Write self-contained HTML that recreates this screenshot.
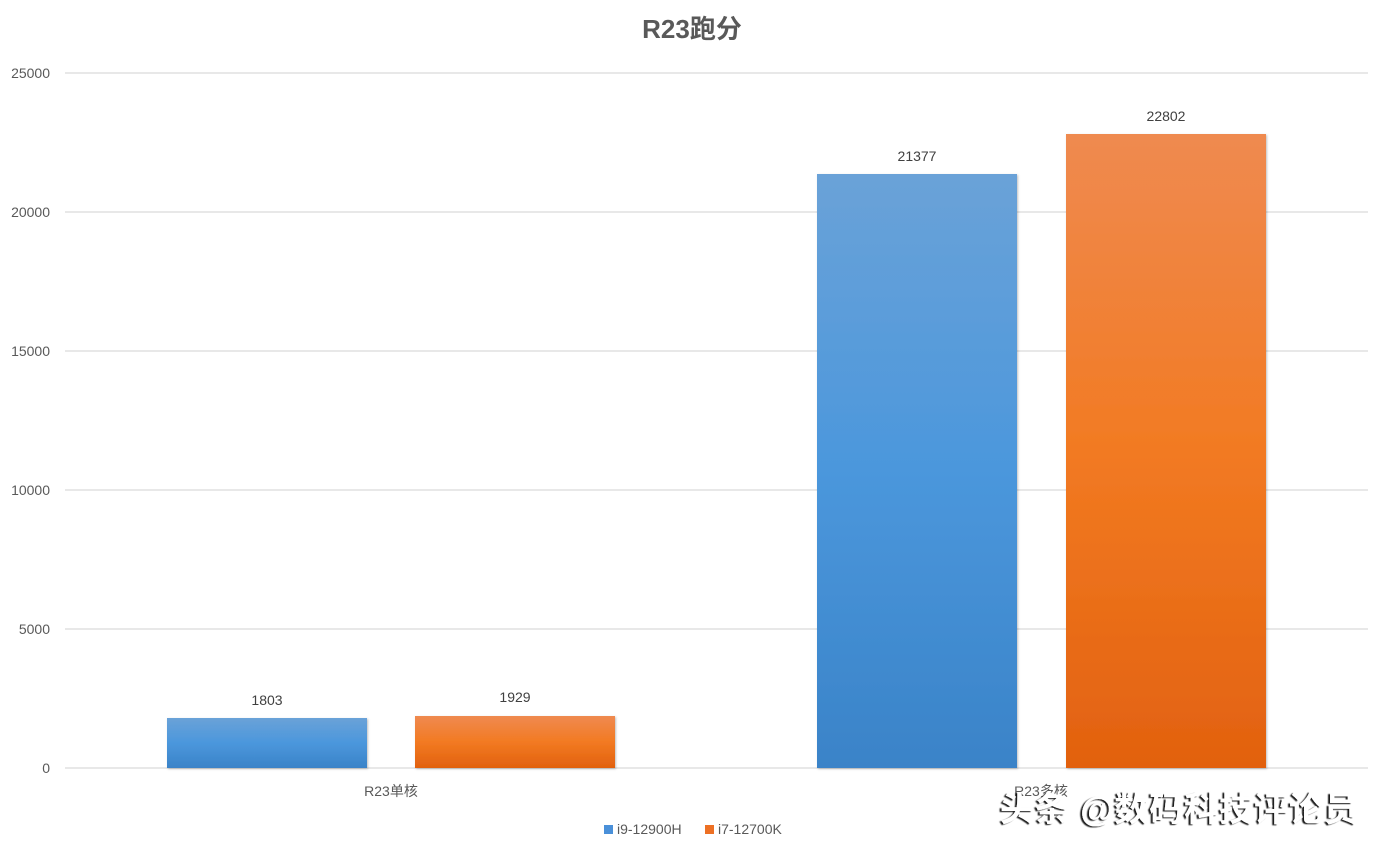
<!DOCTYPE html>
<html><head><meta charset="utf-8"><style>
html,body{margin:0;padding:0;background:#fff;width:1384px;height:851px;overflow:hidden}
text{font-family:"Liberation Sans","Noto Sans CJK SC",sans-serif}
</style></head><body>
<svg width="1384" height="851" xmlns="http://www.w3.org/2000/svg">
<defs>
<linearGradient id="b" x1="0" y1="0" x2="0" y2="1"><stop offset="0" stop-color="#6aa2d8"/><stop offset="0.5" stop-color="#4b97dc"/><stop offset="1" stop-color="#3a83c8"/></linearGradient>
<linearGradient id="o" x1="0" y1="0" x2="0" y2="1"><stop offset="0" stop-color="#ef8a50"/><stop offset="0.5" stop-color="#f27a22"/><stop offset="1" stop-color="#e2610f"/></linearGradient>
<filter id="s"><feDropShadow dx="1" dy="1" stdDeviation="1" flood-color="#000" flood-opacity="0.25"/></filter>
<filter id="w"><feDropShadow dx="-2" dy="1" stdDeviation="0.5" flood-color="#000" flood-opacity="0.9"/></filter>
</defs>
<text x="692" y="38" text-anchor="middle" font-size="26" font-weight="bold" fill="#595959">R23跑分</text>
<g stroke="#d9d9d9" stroke-width="1.3">
<line x1="65" x2="1368" y1="73" y2="73"/><line x1="65" x2="1368" y1="212" y2="212"/><line x1="65" x2="1368" y1="351" y2="351"/><line x1="65" x2="1368" y1="490" y2="490"/><line x1="65" x2="1368" y1="629" y2="629"/><line x1="65" x2="1368" y1="768" y2="768"/>
</g>
<g font-size="14" fill="#595959" text-anchor="end">
<text x="50" y="78">25000</text><text x="50" y="217">20000</text><text x="50" y="356">15000</text><text x="50" y="495">10000</text><text x="50" y="634">5000</text><text x="50" y="773">0</text>
</g>
<g filter="url(#s)">
<rect x="167" y="718" width="200" height="50" fill="url(#b)"/>
<rect x="415" y="716" width="200" height="52" fill="url(#o)"/>
<rect x="817" y="174" width="200" height="594" fill="url(#b)"/>
<rect x="1066" y="134" width="200" height="634" fill="url(#o)"/>
</g>
<g font-size="14" fill="#404040" text-anchor="middle">
<text x="267" y="705">1803</text><text x="515" y="702">1929</text>
<text x="917" y="161">21377</text><text x="1166" y="121">22802</text>
<text x="391" y="796" fill="#595959">R23单核</text><text x="1041" y="796" fill="#595959">R23多核</text>
</g>
<rect x="604" y="825" width="9" height="9" fill="#4a90d9"/>
<text x="617" y="834" font-size="14" fill="#595959">i9-12900H</text>
<rect x="705" y="825" width="9" height="9" fill="#ed7024"/>
<text x="718" y="834" font-size="14" fill="#595959">i7-12700K</text>
<text x="1000" y="821" font-size="34" font-weight="bold" fill="#fff" filter="url(#w)" textLength="358">头条 @数码科技评论员</text>
</svg>
</body></html>
